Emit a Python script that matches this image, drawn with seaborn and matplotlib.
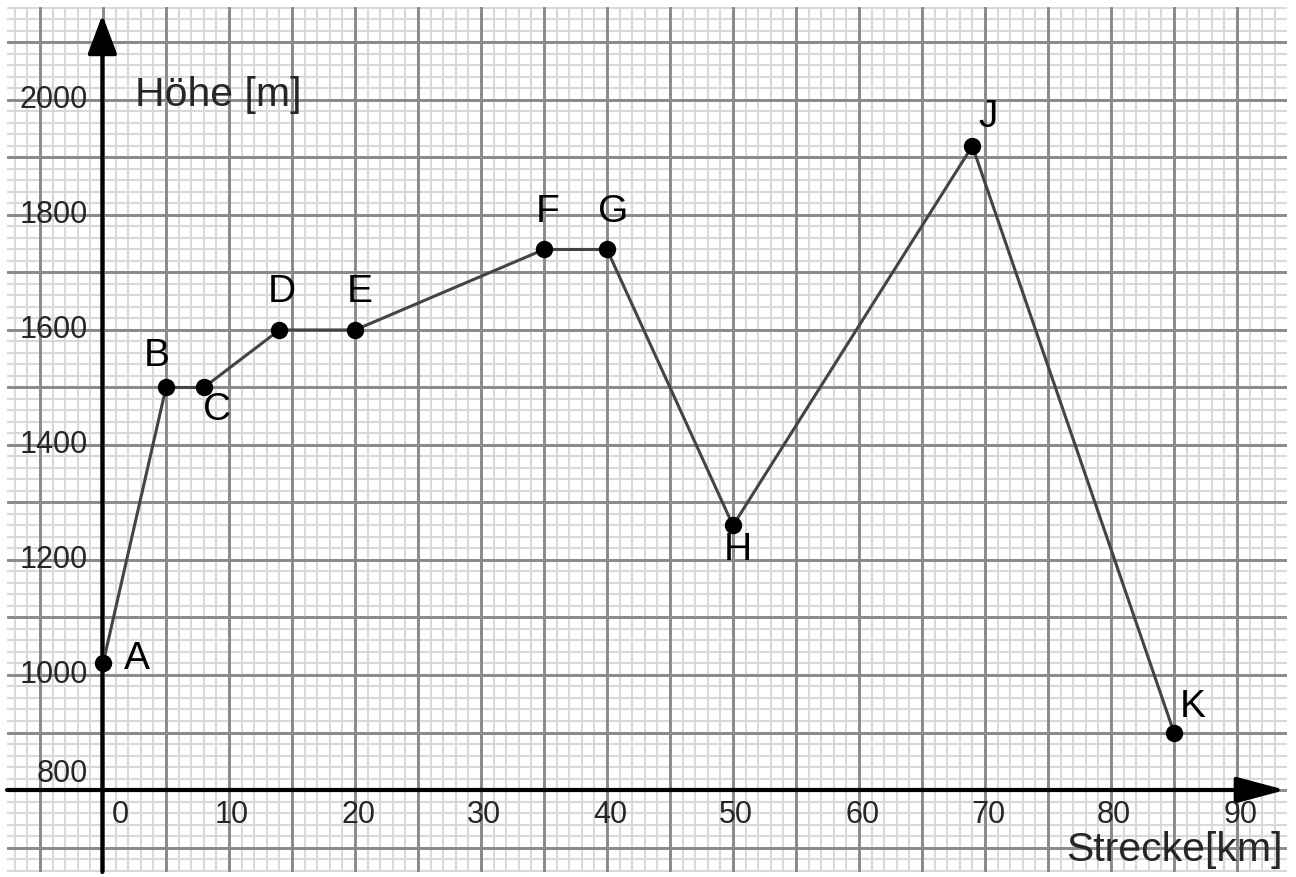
import numpy as np
import pandas as pd
import matplotlib
matplotlib.use('Agg')
import matplotlib.pyplot as plt
import seaborn as sns

# Höhenprofil der Strecke
punkte = ['A', 'B', 'C', 'D', 'E', 'F', 'G', 'H', 'J', 'K']
strecke = [0, 5, 8, 14, 20, 35, 40, 50, 69, 85]
hoehe = [1020, 1500, 1500, 1600, 1600, 1740, 1740, 1260, 1920, 900]
# label offsets in pixels (dx, dy) from each point
label_off = [(34, 4), (-9, 31), (13, -23), (2, 38), (5, 38),
             (4, 37), (6, 37), (5, -25), (16, 29), (19, 26)]

x_ticks = [0, 10, 20, 30, 40, 50, 60, 70, 80, 90]
y_ticks = [800, 1000, 1200, 1400, 1600, 1800, 2000]

df = pd.DataFrame({'Strecke': strecke, 'Hoehe': hoehe, 'Punkt': punkte})

sns.set_style('white')
plt.rcParams['font.family'] = ['Liberation Sans', 'DejaVu Sans']

fig = plt.figure(figsize=(12.96, 8.77), dpi=100)
ax = fig.add_axes([7 / 1296, 5 / 877, 1280 / 1296, 865 / 877])
ax.set_xlim(-7.62, 93.97)
ax.set_ylim(657.4, 2161.7)

# Millimeterpapier
ax.set_xticks(np.arange(-7, 94, 1), minor=True)
ax.set_yticks(np.arange(660, 2161, 20), minor=True)
ax.set_xticks([])
ax.set_yticks([])
ax.tick_params(which='both', length=0, labelbottom=False, labelleft=False)
ax.grid(which='minor', color='#d9d9d9', lw=1.5)
ax.set_axisbelow(True)
for gx in np.arange(-5, 94, 5):
    ax.axvline(gx, color='#8a8a8a', lw=2.1, zorder=0.7)
for gy in np.arange(700, 2161, 100):
    ax.axhline(gy, color='#8a8a8a', lw=2.1, zorder=0.7)
for s in ax.spines.values():
    s.set_visible(False)

# Achsen mit Pfeilen
ax.annotate('', xy=(93.85, 800), xytext=(-7.62, 800),
            arrowprops=dict(arrowstyle='-|>,head_length=1.5,head_width=0.4',
                            mutation_scale=20, lw=3, color='black',
                            shrinkA=0, shrinkB=0), zorder=2)
ax.annotate('', xy=(-0.05, 2148), xytext=(-0.05, 657.4),
            arrowprops=dict(arrowstyle='-|>,head_length=1.2,head_width=0.45',
                            mutation_scale=20, lw=3, color='black',
                            shrinkA=0, shrinkB=0), zorder=2)

# Profil
sns.lineplot(data=df, x='Strecke', y='Hoehe', ax=ax, sort=False, estimator=None,
             color='#444444', lw=2.2, zorder=3)
ax.plot(df['Strecke'], df['Hoehe'], 'o', color='black', ms=11.5, zorder=4)
ax.set_xlabel('')
ax.set_ylabel('')

for p, xv, yv, (dx, dy) in zip(punkte, strecke, hoehe, label_off):
    ax.annotate(p, (xv, yv), xytext=(dx, dy), textcoords='offset pixels',
                ha='center', va='center', fontsize=28, color='black')

for t in x_ticks:
    dx = 1.35 if t == 0 else 0.25
    ax.text(t + dx, 756.5, str(t), ha='center', va='center', fontsize=22)
for t in y_ticks:
    yy = t + 27 if t == 800 else t
    ax.text(-1.2, yy, str(t), ha='right', va='center', fontsize=22)

ax.text(2.54, 2009, 'Höhe [m]', ha='left', va='center', fontsize=29.5)
ax.text(93.65, 696, 'Strecke[km]', ha='right', va='center', fontsize=29.5)

fig.savefig('out.png', dpi=100, facecolor='white')
